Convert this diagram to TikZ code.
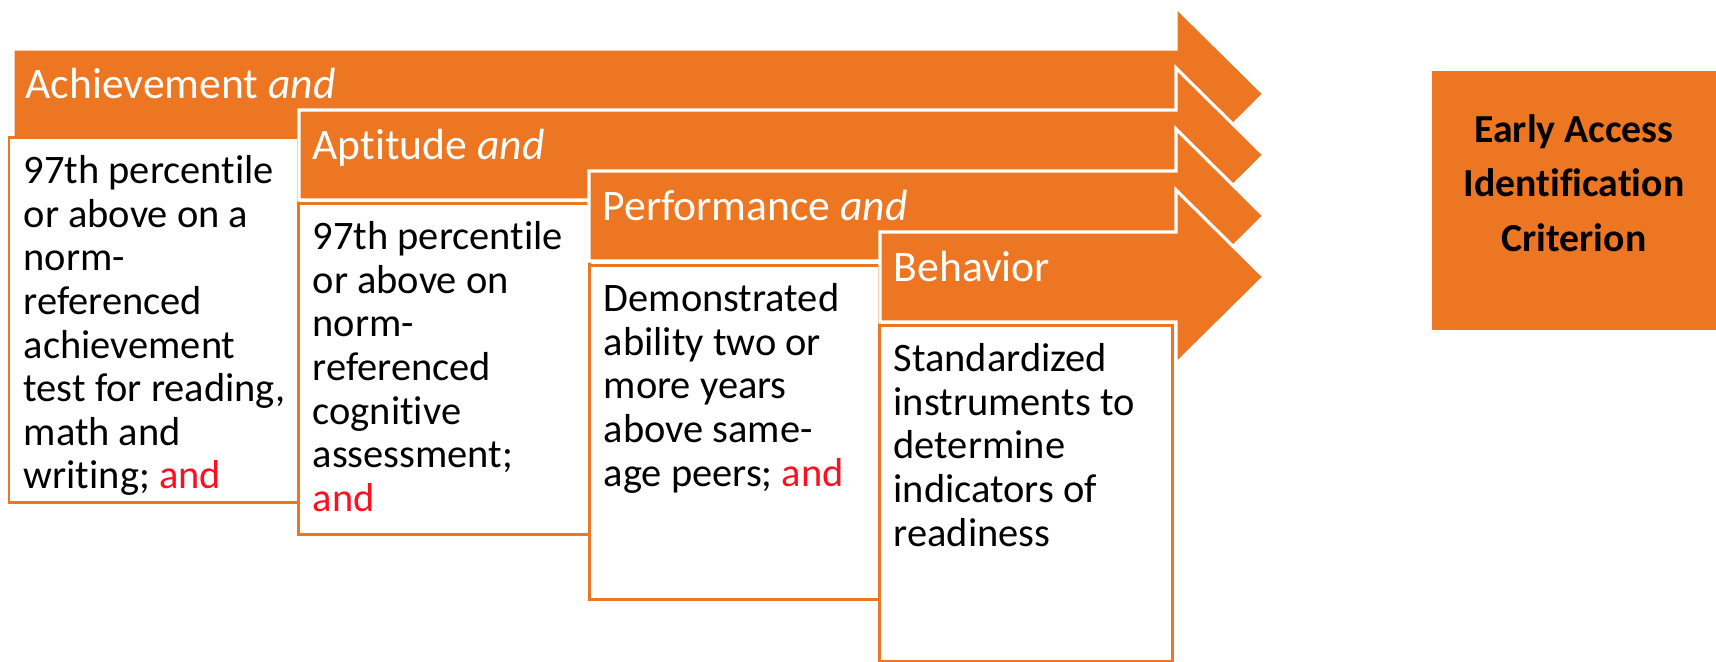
\documentclass[tikz,border=0pt]{standalone}
\usepackage{fontspec}
\setmainfont{Carlito}[Ligatures=NoCommon]
\definecolor{org}{RGB}{237,118,34}
\definecolor{andred}{RGB}{255,16,32}
\newcommand\chevArrow[2]{%
  \filldraw[arrowshape] (#1,#2-45) -- (1176,#2-45) -- (1176,#2-87) -- (1264,#2)
    -- (1176,#2+87) -- (1176,#2+45) -- (#1,#2+45) -- cycle;}
\tikzset{
  arrowshape/.style={fill=org, draw=white, line width=0.9pt, line join=miter},
  cardbox/.style={fill=white, draw=org, line width=0.85pt},
  headtext/.style={text=white, font=\fontsize{12.4}{14}\selectfont, anchor=base west, inner sep=0pt},
  bodytext/.style={text=black, font=\fontsize{11.5}{12.4}\selectfont, align=left, anchor=north west, inner sep=0pt},
  goalbox/.style={fill=org, draw=none},
  goaltext/.style={text=black, font=\bfseries\fontsize{11.3}{15.4}\selectfont, align=center, anchor=north, inner sep=0pt}
}
\begin{document}
\begin{tikzpicture}[x=0.01cm,y=-0.01cm]
\useasboundingbox (0,0) rectangle (1716,662);
\fill[white] (0,0) rectangle (1716,662);

% step 1
\chevArrow{13}{94}
\draw[cardbox] (9,138) rectangle (298,503);
\node[headtext] (h1) at (25,99) {Achievement \textit{and}};
\node[bodytext] (b1) at (23,151.4) {\rule{0pt}{9pt}97th percentile\\or above on a\\norm-\\referenced\\achievement\\test for reading,\\math and\\writing; {\color{andred}and}};

% step 2
\chevArrow{299}{155}
\draw[cardbox] (298,204) rectangle (589,535);
\node[headtext] (h2) at (312,160) {Aptitude \textit{and}};
\node[bodytext] (b2) at (312,217.4) {\rule{0pt}{9pt}97th percentile\\or above on\\norm-\\referenced\\cognitive\\assessment;\\{\color{andred}and}};

% step 3
\chevArrow{589}{216}
\draw[cardbox] (589,266) rectangle (879,600);
\node[headtext] (h3) at (602,221) {Performance \textit{and}};
\node[bodytext] (b3) at (603,279.4) {\rule{0pt}{9pt}Demonstrated\\ability two or\\more years\\above same-\\age peers; {\color{andred}and}};

% step 4
\chevArrow{880}{277}
\draw[cardbox] (879,326) rectangle (1172,661);
\node[headtext] (h4) at (893,282) {Behavior};
\node[bodytext] (b4) at (893,339.4) {\rule{0pt}{9pt}Standardized\\instruments to\\determine\\indicators of\\readiness};

% goal box
\fill[goalbox] (1432,71) rectangle (1717,330);
\node[goaltext] (goal) at (1574,99.8) {\rule{0pt}{12pt}Early Access\\Identification\\Criterion};
\end{tikzpicture}
\end{document}
